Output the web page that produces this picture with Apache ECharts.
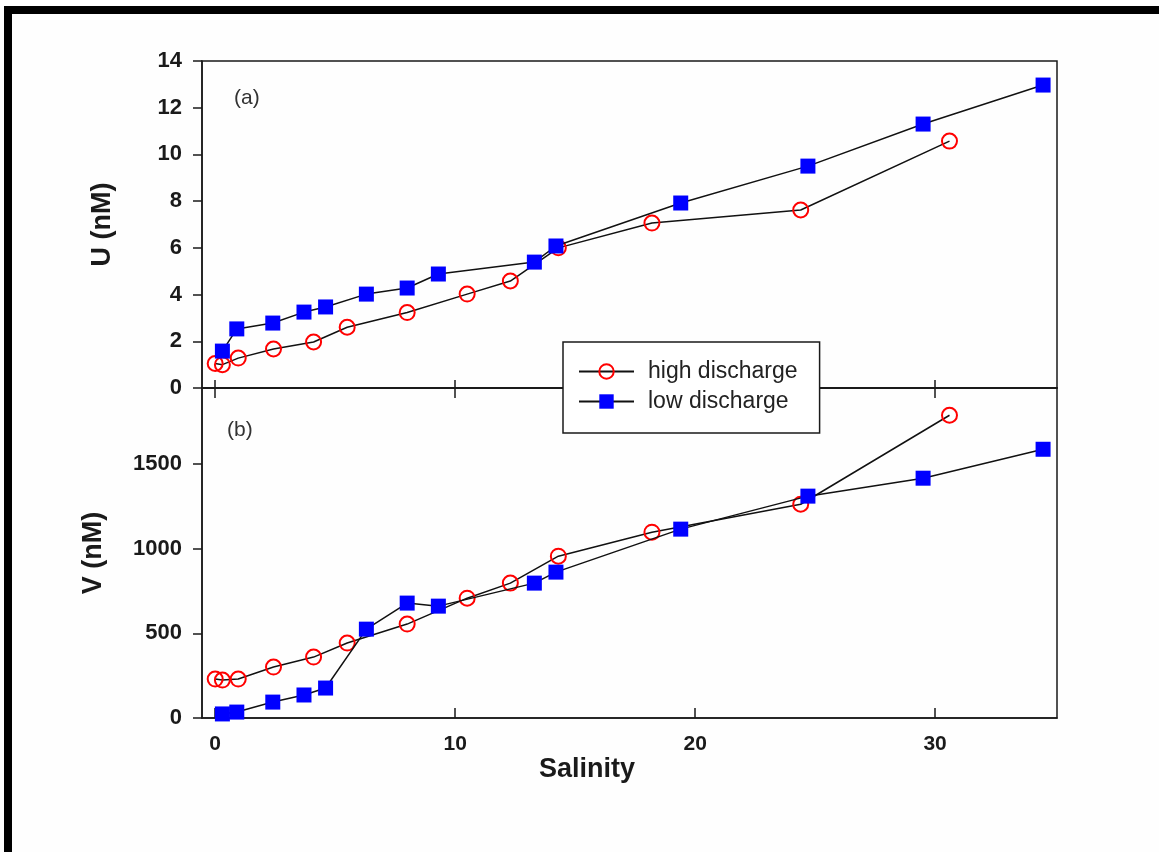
<!DOCTYPE html>
<html>
<head>
<meta charset="utf-8">
<script src="https://cdn.jsdelivr.net/npm/echarts@6/dist/echarts.min.js"></script>
<style>
html,body{margin:0;padding:0;background:#fefefe;}
#chart{width:1159px;height:852px;}
</style>
</head>
<body>
<div id="chart"></div>
<script>
// ---- data ----
const highS = [0, 0.3, 0.96, 2.43, 4.1, 5.5, 8.0, 10.5, 12.3, 14.3, 18.2, 24.4, 30.6];
const highU = [1.05, 1.0, 1.28, 1.67, 1.97, 2.6, 3.23, 4.02, 4.58, 6.0, 7.06, 7.62, 10.57];
const highV = [230, 224, 230, 301, 360, 443, 555, 708, 797, 956, 1098, 1263, 1789];

const lowS = [0.3, 0.9, 2.4, 3.7, 4.6, 6.3, 8.0, 9.3, 13.3, 14.2, 19.4, 24.7, 29.5, 34.5];
const lowU = [1.58, 2.53, 2.78, 3.25, 3.47, 4.02, 4.28, 4.88, 5.39, 6.08, 7.92, 9.5, 11.3, 12.97];
const lowV = [24, 35, 94, 136, 177, 525, 679, 661, 797, 862, 1116, 1311, 1417, 1588];

const xTicks = [0, 10, 20, 30];
const uTicks = [0, 2, 4, 6, 8, 10, 12, 14];
const vTicks = [0, 500, 1000, 1500];

const seriesNames = ['high discharge', 'low discharge'];
const panelLabels = ['(a)', '(b)'];
const axisTitles = {x: 'Salinity', u: 'U (nM)', v: 'V (nM)'};

// ---- chart ----
const FONT = '"Liberation Sans", Arial, sans-serif';
const INK = '#1a1a1a';
const zip = (a, b) => a.map((v, i) => [v, b[i]]);
const plain = v => String(v);

const chart = echarts.init(document.getElementById('chart'), null, {renderer: 'canvas'});

const axisLine = {show: true, onZero: false, lineStyle: {color: INK, width: 1.5}};
const xBase = {type: 'value', min: -0.55, max: 35.08, splitLine: {show: false}, axisLine: axisLine};

const highStyle = {
  type: 'line', name: seriesNames[0], symbol: 'circle', symbolSize: 15,
  itemStyle: {color: 'rgba(255,255,255,0)', borderColor: '#ff0000', borderWidth: 2},
  lineStyle: {color: '#111', width: 1.5}, z: 3
};
const lowStyle = {
  type: 'line', name: seriesNames[1], symbol: 'rect', symbolSize: 15,
  itemStyle: {color: '#0000ff'},
  lineStyle: {color: '#111', width: 1.5}, z: 4
};

chart.setOption({
  animation: false,
  backgroundColor: '#fefefe',
  textStyle: {fontFamily: FONT},
  grid: [
    {left: 202, top: 61, width: 855, height: 327, show: true, borderColor: INK, borderWidth: 1.5, backgroundColor: 'transparent'},
    {left: 202, top: 388, width: 855, height: 330, show: true, borderColor: INK, borderWidth: 1.5, backgroundColor: 'transparent'}
  ],
  xAxis: [
    Object.assign({}, xBase, {gridIndex: 0, position: 'bottom',
      axisTick: {show: true, inside: true, length: 8, customValues: xTicks, lineStyle: {color: INK, width: 1.5}},
      axisLabel: {show: false}}),
    Object.assign({}, xBase, {gridIndex: 1, position: 'bottom',
      axisTick: {show: true, inside: true, length: 10, customValues: xTicks, lineStyle: {color: INK, width: 1.5}},
      axisLabel: {show: true, customValues: xTicks, formatter: plain, margin: 16, fontSize: 21, fontWeight: 'bold', color: INK, fontFamily: FONT},
      name: axisTitles.x, nameLocation: 'middle', nameGap: 33,
      nameTextStyle: {fontSize: 27, fontWeight: 'bold', color: INK, fontFamily: FONT, padding: [0, 85, 0, 0]}}),
    Object.assign({}, xBase, {gridIndex: 1, position: 'top',
      axisTick: {show: true, inside: true, length: 10, customValues: xTicks, lineStyle: {color: INK, width: 1.5}},
      axisLabel: {show: false}})
  ],
  yAxis: [
    {type: 'value', gridIndex: 0, min: 0, max: 14, interval: 2, splitLine: {show: false}, axisLine: axisLine,
      axisTick: {show: true, inside: false, length: 9, customValues: uTicks, lineStyle: {color: INK, width: 1.5}},
      axisLabel: {customValues: uTicks, formatter: plain, margin: 20, fontSize: 22, fontWeight: 'bold', color: INK, fontFamily: FONT},
      name: axisTitles.u, nameLocation: 'middle', nameGap: 86, nameRotate: 90,
      nameTextStyle: {fontSize: 27, fontWeight: 'bold', color: INK, fontFamily: FONT}},
    {type: 'value', gridIndex: 1, min: 0, max: 1950, splitLine: {show: false}, axisLine: axisLine,
      axisTick: {show: true, inside: false, length: 9, customValues: vTicks, lineStyle: {color: INK, width: 1.5}},
      axisLabel: {customValues: vTicks, formatter: plain, margin: 20, fontSize: 22, fontWeight: 'bold', color: INK, fontFamily: FONT},
      name: axisTitles.v, nameLocation: 'middle', nameGap: 95, nameRotate: 90,
      nameTextStyle: {fontSize: 27, fontWeight: 'bold', color: INK, fontFamily: FONT}}
  ],
  legend: {
    orient: 'vertical', left: 563, top: 342,
    data: seriesNames,
    itemWidth: 55, itemHeight: 18, itemGap: 7,
    padding: [18, 22, 20, 15],
    backgroundColor: '#ffffff', borderColor: INK, borderWidth: 1.5,
    textStyle: {fontSize: 23, color: '#222', fontFamily: FONT, padding: [0, 0, 0, 9]},
    z: 10
  },
  series: [
    Object.assign({}, highStyle, {xAxisIndex: 0, yAxisIndex: 0, data: zip(highS, highU)}),
    Object.assign({}, lowStyle,  {xAxisIndex: 0, yAxisIndex: 0, data: zip(lowS, lowU)}),
    Object.assign({}, highStyle, {xAxisIndex: 1, yAxisIndex: 1, data: zip(highS, highV)}),
    Object.assign({}, lowStyle,  {xAxisIndex: 1, yAxisIndex: 1, data: zip(lowS, lowV)})
  ],
  graphic: [
    {type: 'rect', left: 4, top: 6, shape: {width: 1155, height: 8}, style: {fill: '#000'}, z: 20},
    {type: 'rect', left: 4, top: 6, shape: {width: 8, height: 846}, style: {fill: '#000'}, z: 20},
    {type: 'text', left: 234, top: 88, style: {text: panelLabels[0], font: '21px ' + FONT, fill: '#333'}, z: 20},
    {type: 'text', left: 227, top: 420, style: {text: panelLabels[1], font: '21px ' + FONT, fill: '#333'}, z: 20}
  ]
});
</script>
</body>
</html>
